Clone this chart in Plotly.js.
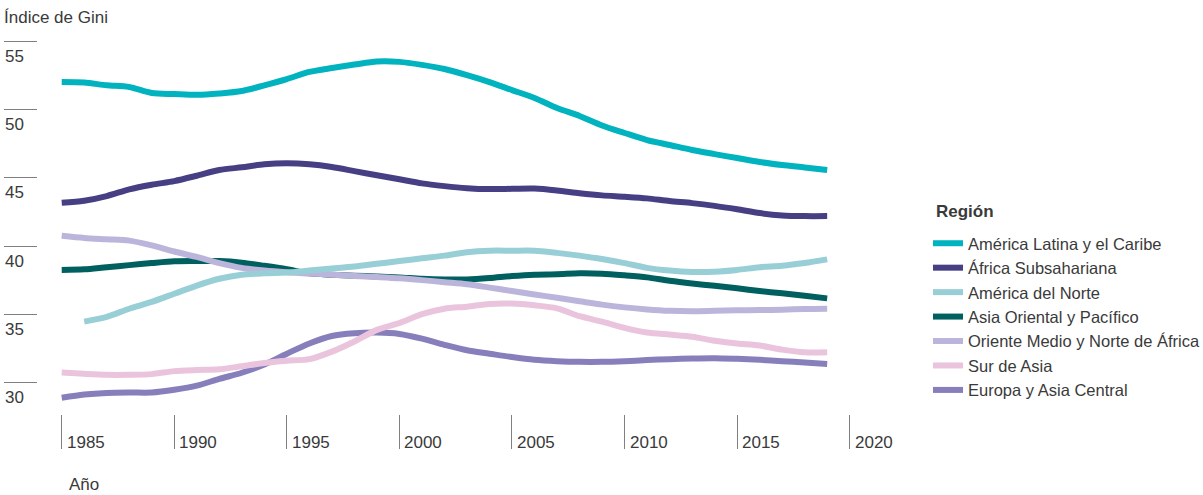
<!DOCTYPE html>
<html>
<head>
<meta charset="utf-8">
<script src="https://cdn.plot.ly/plotly-3.0.1.min.js"></script>
<style>
html,body{margin:0;padding:0;background:#ffffff;}
#chart{width:1203px;height:495px;}
</style>
</head>
<body>
<div id="chart"></div>
<script>
// ---- Data (Índice de Gini por región) ----
const years = [1985,1986,1987,1988,1989,1990,1991,1992,1993,1994,1995,1996,1997,1998,1999,2000,2001,2002,2003,2004,2005,2006,2007,2008,2009,2010,2011,2012,2013,2014,2015,2016,2017,2018,2019];

const regionNames = [
  "América Latina y el Caribe",
  "África Subsahariana",
  "América del Norte",
  "Asia Oriental y Pacífico",
  "Oriente Medio y Norte de África",
  "Sur de Asia",
  "Europa y Asia Central"
];

const latam  = [52.04,52.00,51.80,51.67,51.23,51.16,51.10,51.20,51.38,51.80,52.26,52.78,53.07,53.32,53.55,53.52,53.30,53.00,52.55,52.04,51.45,50.87,50.13,49.55,48.85,48.30,47.78,47.42,47.05,46.75,46.46,46.17,45.95,45.77,45.58];
const africa = [43.18,43.33,43.67,44.16,44.50,44.77,45.16,45.58,45.78,46.00,46.07,46.00,45.80,45.50,45.20,44.90,44.60,44.40,44.25,44.18,44.20,44.22,44.08,43.88,43.72,43.62,43.50,43.30,43.15,42.95,42.70,42.42,42.25,42.20,42.20];
const northAm = [null,34.45,34.80,35.40,35.90,36.50,37.10,37.60,37.90,38.00,38.05,38.20,38.35,38.50,38.70,38.90,39.10,39.30,39.55,39.66,39.66,39.66,39.50,39.30,39.05,38.75,38.40,38.20,38.10,38.12,38.25,38.45,38.55,38.75,39.02];
const eastAsia = [38.24,38.29,38.45,38.60,38.75,38.88,38.90,38.90,38.78,38.55,38.30,38.00,37.90,37.82,37.77,37.70,37.60,37.55,37.55,37.65,37.80,37.90,37.93,38.00,37.97,37.85,37.70,37.45,37.25,37.08,36.90,36.70,36.53,36.35,36.16];
const mena = [40.76,40.60,40.50,40.40,40.05,39.60,39.20,38.75,38.40,38.20,38.07,37.98,37.90,37.80,37.72,37.63,37.50,37.35,37.20,36.95,36.70,36.45,36.20,35.95,35.70,35.50,35.35,35.25,35.22,35.25,35.28,35.30,35.33,35.38,35.40];
const southAsia = [30.71,30.62,30.55,30.55,30.60,30.82,30.90,30.95,31.18,31.42,31.58,31.70,32.25,33.00,33.85,34.35,35.00,35.40,35.55,35.75,35.78,35.65,35.43,34.85,34.45,34.00,33.65,33.50,33.35,33.05,32.85,32.70,32.40,32.20,32.20];
const europe = [28.86,29.10,29.22,29.25,29.25,29.45,29.75,30.25,30.70,31.30,32.10,32.85,33.40,33.60,33.65,33.55,33.20,32.75,32.35,32.10,31.85,31.65,31.55,31.50,31.50,31.55,31.63,31.70,31.75,31.77,31.72,31.65,31.55,31.45,31.34];

const yTickVals = [30,35,40,45,50,55];
const yTickText = ["30","35","40","45","50","55"];
const xTickVals = [1985,1990,1995,2000,2005,2010,2015,2020];
const xTickText = ["1985","1990","1995","2000","2005","2010","2015","2020"];

const seriesValues = [latam, africa, northAm, eastAsia, mena, southAsia, europe];
const seriesColors = ["#00b3bf","#463f83","#98cfd6","#00605f","#bcb5db","#eac4dd","#877fbc"];
// drawing order (bottom -> top)
const drawOrder = [6,5,3,4,2,1,0];

const FONT = "Liberation Sans, Arial, Helvetica, sans-serif";
const TEXT = "#3a3a3a";
const TICK = "#808080";

const traces = drawOrder.map(function(i){
  return {
    type: "scatter",
    mode: "lines",
    name: regionNames[i],
    x: years,
    y: seriesValues[i],
    connectgaps: false,
    line: {color: seriesColors[i], width: 6, shape: "spline", smoothing: 0.8},
    legendrank: i + 1,
    hoverinfo: "skip"
  };
});

const annotations = [];
yTickVals.forEach(function(v, k){
  annotations.push({
    xref: "paper", yref: "y", x: 0, y: v,
    xanchor: "left", yanchor: "middle", xshift: -35, yshift: -15,
    text: yTickText[k], showarrow: false,
    font: {family: FONT, size: 17, color: TEXT}
  });
});
xTickVals.forEach(function(v, k){
  annotations.push({
    xref: "x", yref: "paper", x: v, y: 0,
    xanchor: "left", yanchor: "middle", xshift: 3, yshift: -28,
    text: xTickText[k], showarrow: false,
    font: {family: FONT, size: 17, color: TEXT}
  });
});
annotations.push({
  xref: "paper", yref: "paper", x: 0, y: 0,
  xanchor: "left", yanchor: "middle", xshift: 29, yshift: -70,
  text: "Año", showarrow: false,
  font: {family: FONT, size: 17, color: TEXT}
});
// legend heading
annotations.push({
  xref: "paper", yref: "paper", x: 1, y: 1,
  xanchor: "left", yanchor: "middle", xshift: 54, yshift: -181,
  text: "<b>Región</b>", showarrow: false,
  font: {family: FONT, size: 17, color: TEXT}
});

const layout = {
  width: 1203, height: 495,
  paper_bgcolor: "#ffffff", plot_bgcolor: "#ffffff",
  margin: {l: 38, r: 323, t: 30, b: 81, pad: 0},
  font: {family: FONT, size: 17, color: TEXT},
  title: {
    text: "Índice de Gini",
    xref: "container", yref: "container",
    x: 4/1203, xanchor: "left",
    y: 1 - 17/495, yanchor: "middle",
    pad: {t: 0, b: 0, l: 0, r: 0},
    font: {family: FONT, size: 17, color: TEXT}
  },
  xaxis: {
    range: [1983.947, 2021.346],
    tickvals: xTickVals, ticktext: xTickText,
    showticklabels: false,
    ticks: "outside", ticklen: 34, tickwidth: 1, tickcolor: TICK,
    showgrid: false, zeroline: false, showline: false, fixedrange: true
  },
  yaxis: {
    range: [27.673, 55.859],
    tickvals: yTickVals, ticktext: yTickText,
    showticklabels: false,
    ticks: "outside", ticklen: 33, tickwidth: 1, tickcolor: TICK,
    showgrid: false, zeroline: false, showline: false, fixedrange: true
  },
  showlegend: true,
  legend: {
    xref: "container", yref: "container",
    x: 928/1203, xanchor: "left",
    y: 1 - 226/495, yanchor: "top",
    bgcolor: "rgba(0,0,0,0)", borderwidth: 0,
    font: {family: FONT, size: 16.5, color: TEXT},
    traceorder: "normal",
    itemwidth: 30
  },
  annotations: annotations,
  hovermode: false
};

Plotly.newPlot("chart", traces, layout, {displayModeBar: false, staticPlot: true});
</script>
</body>
</html>
